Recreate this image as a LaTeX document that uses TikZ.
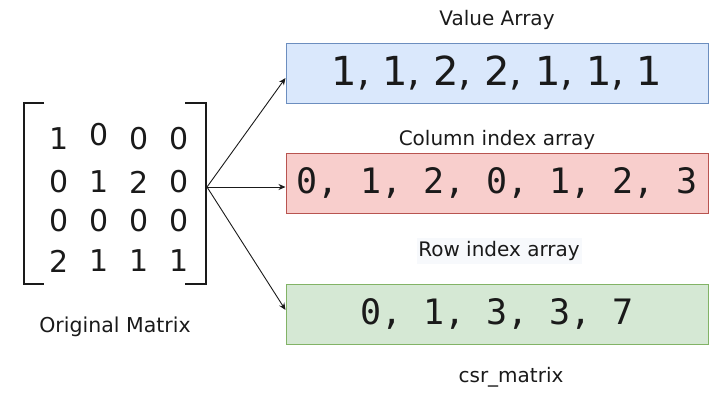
\documentclass[tikz,border=0pt]{standalone}
\usepackage{fontspec}
\setmainfont{DejaVu Sans}
\newfontfamily\monof{DejaVu Sans Mono}
\usetikzlibrary{arrows.meta}
\definecolor{bluefill}{HTML}{DAE8FC}
\definecolor{bluedraw}{HTML}{6C8EBF}
\definecolor{redfill}{HTML}{F8CECC}
\definecolor{reddraw}{HTML}{B85450}
\definecolor{greenfill}{HTML}{D5E8D4}
\definecolor{greendraw}{HTML}{82B366}
\definecolor{ink}{HTML}{1A1A1A}
\definecolor{lblbg}{HTML}{F7F9FC}
\begin{document}
\begin{tikzpicture}[x=1pt,y=-1pt,
  arraybox/.style={draw, line width=1pt, minimum width=422pt, minimum height=60pt, inner sep=0pt, text=ink},
  lbl/.style={font=\fontsize{20}{22}\selectfont, text=ink, inner sep=1pt},
  entry/.style={font=\fontsize{30}{32}\selectfont, text=ink, inner sep=0pt},
  bracket/.style={draw=ink, line width=1.8pt},
  conn/.style={draw=ink, line width=0.9pt, -{Stealth[length=7pt,width=6pt]}}]
\useasboundingbox (0,0) rectangle (717,402);
% matrix entries
\foreach \r/\y/\yb/\a/\b/\c/\d in {1/139/135/1/0/0/0, 2/182/182/0/1/2/0, 3/221/221/0/0/0/0, 4/261/261/2/1/1/1}{
  \node[entry] (m\r a) at (59,\y) {\a};
  \node[entry] (m\r b) at (99,\yb) {\b};
  \node[entry] (m\r c) at (139,\y) {\c};
  \node[entry] (m\r d) at (179,\y) {\d};
}
% brackets
\draw[bracket] (44,103) -- (24,103) -- (24,284) -- (44,284);
\draw[bracket] (185,103) -- (206,103) -- (206,284) -- (185,284);
\node[lbl, font=\fontsize{20.5}{22}\selectfont] (origlbl) at (115,327) {Original Matrix};
% arrays
\node[arraybox, fill=bluefill, draw=bluedraw, font=\fontsize{40}{42}\selectfont] (blue) at (497,73) {1, 1, 2, 2, 1, 1, 1};
\node[arraybox, fill=redfill, draw=reddraw, font=\monof\fontsize{35}{38}\selectfont] (red) at (497,183) {0, 1, 2, 0, 1, 2, 3};
\node[arraybox, fill=greenfill, draw=greendraw, font=\monof\fontsize{35}{38}\selectfont] (green) at (497,314) {0, 1, 3, 3, 7};
\node[lbl] (vallbl) at (497,20) {Value Array};
\node[lbl] (collbl) at (497,140) {Column index array};
\node[lbl, fill=lblbg, minimum width=165pt, minimum height=26pt] (rowlbl) at (499,251) {Row index array};
\node[lbl] (csrlbl) at (511,377) {csr\_matrix};
% connectors
\coordinate (src) at (207,187);
\draw[conn] (src) -- ([yshift=-5pt]blue.west);
\draw[conn] (src) -- ([yshift=-4pt]red.west);
\draw[conn] (src) -- ([yshift=4pt]green.west);
\end{tikzpicture}
\end{document}
